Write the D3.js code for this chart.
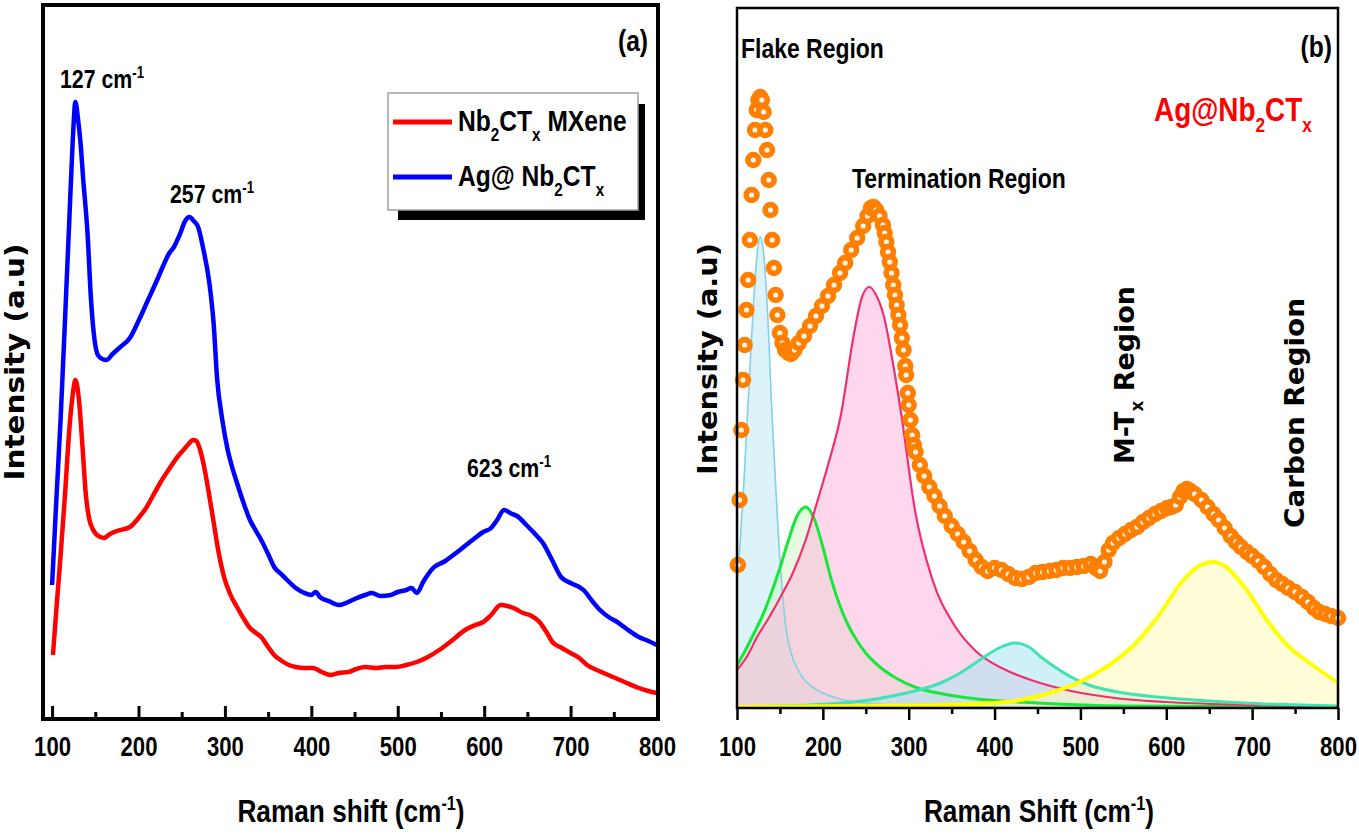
<!DOCTYPE html>
<html lang="en">
<head>
<meta charset="utf-8">
<title>Raman spectra: Nb2CTx and Ag@Nb2CTx</title>
<script src="https://cdn.jsdelivr.net/npm/d3@7"></script>
<style>
  body { margin: 0; background: #fff; }
  svg { display: block; }
</style>
</head>
<body>
<script>

// ---- data (Raman shift in cm-1, intensity in arbitrary units) ----
var majorTicks = [100, 200, 300, 400, 500, 600, 700, 800];
var minorTicks = [150, 250, 350, 450, 550, 650, 750];

// panel (a)
var bluePts = [[100,134],[105,220],[110,302],[115,400],[120,500],[124,580],[127,617],[130,600],[133,575],
  [136,540],[141,486],[145,420],[149,380],[153,364],[158,360],[163,359],[170,365],[179,372],[190,381],
  [200,398],[211,419],[220,436],[228,452],[235,465],[241,472],[248,485],[254,498],[259,502],[264,498],
  [269,492],[275,470],[282,436],[287,395],[291,340],[297,299],[303,270],[309,250],[314,236],[322,215],
  [329,199],[336,188],[342,179],[350,165],[357,152],[365,145],[372,139],[382,131],[392,126],[400,124],
  [405,127],[410,122],[420,118],[432,114],[440,116],[450,120],[462,124],[470,126],[480,123],[492,124],
  [500,127],[510,129],[516,131],[522,126],[530,138],[541,151],[555,158],[569,167],[585,178],[599,187],
  [608,191],[615,199],[623,209],[630,206],[638,203],[650,193],[660,184],[668,176],[678,160],[689,142],
  [700,136],[715,129],[725,118],[734,109],[744,102],[754,97],[765,90],[779,82],[790,78],[800,74]];

var redPts = [[101,64],[105,110],[110,165],[115,225],[120,290],[124,325],[127,339],[131,320],[135,275],
  [139,225],[143,200],[147,190],[152,184],[160,181],[167,185],[175,188],[190,192],[201,202],[208,210],
  [216,222],[225,236],[237,252],[245,262],[252,269],[258,275],[263,279],[267,278],[271,270],[276,252],
  [281,228],[286,202],[292,170],[299,142],[306,125],[314,112],[322,100],[329,91],[336,86],[342,82],
  [350,72],[357,64],[366,58],[374,54],[382,52],[392,51],[402,51],[412,47],[422,44],[432,46],[443,47],
  [452,50],[462,52],[475,51],[486,52],[498,52],[510,54],[522,57],[535,62],[548,69],[562,78],[578,89],
  [590,94],[599,97],[608,104],[619,114],[627,113],[634,111],[645,106],[655,103],[664,97],[672,87],
  [679,77],[690,71],[700,66],[710,61],[719,54],[733,48],[749,42],[765,36],[779,31],[790,28],[800,26]];

// panel (b) experimental spectrum
var agPts = [[101,143],[103,208],[105,278],[107,328],[109,363],[111,398],[113,428],[115,468],[117,513],
  [119,548],[121,578],[123,598],[125,608],[127,611],[129,608],[131,596],[133,578],[135,558],[137,528],
  [139,498],[141,468],[143,440],[145,413],[147,393],[150,375],[153,365],[156,358],[160,355],[163,354],
  [167,358],[172,365],[178,372],[185,382],[192,392],[199,402],[206,412],[213,423],[220,435],[226,445],
  [233,458],[240,470],[247,482],[252,492],[256,500],[259,501],[262,498],[266,492],[270,483],[272,475],
  [274,466],[276,456],[278,446],[280,435],[282,423],[284,413],[286,403],[288,393],[290,383],[292,370],
  [294,358],[296,342],[297,333],[299,315],[300,303],[302,288],[304,273],[306,263],[308,256],[313,243],
  [318,232],[324,221],[330,212],[336,202],[342,192],[350,182],[357,174],[364,166],[371,157],[378,148],
  [385,141],[392,137],[400,140],[408,138],[416,134],[424,130],[432,129],[440,131],[448,135],[456,136],
  [464,137],[472,138],[480,140],[488,140],[496,141],[504,142],[512,144],[518,140],[523,137],[528,146],
  [533,158],[538,165],[545,170],[552,174],[559,178],[566,181],[573,186],[580,190],[587,194],[594,197],
  [601,200],[606,201],[611,203],[616,211],[620,217],[624,219],[628,217],[633,214],[641,208],[648,201],
  [655,194],[661,188],[668,180],[675,172],[681,166],[687,161],[694,156],[700,152],[707,147],[714,141],
  [721,134],[728,128],[735,124],[742,120],[750,116],[758,111],[765,106],[772,100],[778,96],[785,94],
  [792,92],[800,90]];

// panel (b) fitted components
var flakePts = [[100,125],[104,170],[108,225],[112,290],[116,355],[120,415],[124,458],[127,471],[130,462],
  [134,420],[138,350],[140,308],[144,240],[148,175],[152,125],[157,80],[163,55],[170,40],[176,31],
  [188,21],[200,15],[220,9],[240,6],[280,3],[350,1],[500,0],[800,0]];
var greenPts = [[100,43],[110,58],[120,75],[130,93],[140,115],[150,140],[160,168],[170,192],[180,201],
  [190,189],[200,161],[210,128],[220,102],[230,82],[240,67],[250,55],[265,42],[285,30],[310,20],
  [340,14],[380,9],[450,5],[550,2],[800,1]];
var pinkPts = [[100,38],[112,52],[124,72],[137,90],[150,110],[165,135],[180,168],[193,205],[206,243],
  [221,293],[236,373],[246,412],[254,421],[262,413],[271,392],[282,343],[292,290],[307,199],[327,130],
  [353,83],[378,57],[413,38],[439,29],[489,17],[540,10],[600,6],[700,3],[800,1]];
var tealPts = [[100,1],[185,3],[236,6],[297,15],[337,25],[360,35],[388,51],[405,60],[424,65],[440,61],
  [454,51],[472,40],[489,31],[510,23],[550,15],[590,11],[691,5],[800,2]];
var yellowPts = [[100,1],[236,2],[337,3],[413,6],[464,15],[499,26],[530,41],[560,61],[590,91],[620,128],
  [640,143],[654,146],[668,142],[691,121],[717,88],[743,61],[767,45],[800,25]];

var fits = [
  { pts: flakePts,  line: "#86cfe3", fill: "#bfeaf6", lw: 1.6 },
  { pts: greenPts,  line: "#19e63c", fill: "#d2f5c8", lw: 3 },
  { pts: pinkPts,   line: "#f0306e", fill: "#ffb6dc", lw: 2.2 },
  { pts: tealPts,   line: "#3fe3b4", fill: "#a9e3f2", lw: 3 },
  { pts: yellowPts, line: "#ffff00", fill: "#fffab8", lw: 4 }
];

// ---- setup ----
var w = 1359;
var h = 834;
var narrow = "'Liberation Sans', Arial, sans-serif";   // squeezed horizontally below
var squeeze = 0.82;
var wide = "'DejaVu Sans', Verdana, sans-serif";

var svg = d3.select("body")
            .append("svg")
            .attr("width", w)
            .attr("height", h);

// text with sub/superscripts: parts = [[text, ""|"sub"|"sup"], ...]
function richText(g, x, y, parts, size, o) {
  o = o || {};
  var tf = "translate(" + x + "," + y + ")";
  if (o.rotate) tf += " rotate(" + o.rotate + ")";
  if (o.sx) tf += " scale(" + o.sx + ",1)";
  var t = g.append("text")
           .attr("transform", tf)
           .attr("text-anchor", o.anchor || "start")
           .attr("font-family", o.family || narrow)
           .attr("font-size", size)
           .attr("font-weight", "bold")
           .attr("fill", o.color || "#000");
  var shift = 0;
  parts.forEach(function(p) {
    var s = p[1] === "sub" ? size * 0.32 : (p[1] === "sup" ? -size * 0.38 : 0);
    t.append("tspan")
     .attr("dy", s - shift)
     .attr("font-size", p[1] ? size * 0.62 : size)
     .text(p[0]);
    shift = s;
  });
  return t;
}

function styleAxis(ax, width) {
  ax.select(".domain").remove();
  ax.selectAll(".tick line").attr("stroke", "#000").attr("stroke-width", width);
  ax.selectAll(".tick text")
    .attr("font-family", narrow)
    .attr("font-size", 27)
    .attr("font-weight", "bold")
    .attr("fill", "#000")
    .attr("transform", "scale(" + squeeze + ",1)");
}

// ================= panel (a) =================
var xA = d3.scaleLinear().domain([89.5, 800]).range([43, 657]);
var yA = d3.scaleLinear().domain([0, 714]).range([719, 5]);

var lineA = d3.line()
              .x(function(d) { return xA(d[0]); })
              .y(function(d) { return yA(d[1]); })
              .curve(d3.curveMonotoneX);

svg.append("path").datum(redPts)
   .attr("d", lineA).attr("fill", "none")
   .attr("stroke", "#ff0000").attr("stroke-width", 4.5).attr("stroke-linejoin", "round");
svg.append("path").datum(bluePts)
   .attr("d", lineA).attr("fill", "none")
   .attr("stroke", "#0000ff").attr("stroke-width", 4.5).attr("stroke-linejoin", "round");

var axA = svg.append("g").attr("transform", "translate(0,718)")
             .call(d3.axisBottom(xA).tickValues(majorTicks).tickSize(-12).tickPadding(19));
styleAxis(axA, 3);
var axAm = svg.append("g").attr("transform", "translate(0,718)")
              .call(d3.axisBottom(xA).tickValues(minorTicks).tickSize(-6).tickFormat(""));
styleAxis(axAm, 3);

svg.append("rect")
   .attr("x", 43).attr("y", 5).attr("width", 615).attr("height", 714)
   .attr("fill", "none").attr("stroke", "#000").attr("stroke-width", 4);

// legend
svg.append("rect").attr("x", 398).attr("y", 104).attr("width", 247).attr("height", 116).attr("fill", "#000");
svg.append("rect").attr("x", 388).attr("y", 93).attr("width", 250).attr("height", 117)
   .attr("fill", "#fff").attr("stroke", "#a0a0a0").attr("stroke-width", 1.5);
svg.append("line").attr("x1", 393).attr("x2", 452).attr("y1", 122).attr("y2", 122)
   .attr("stroke", "#ff0000").attr("stroke-width", 5);
svg.append("line").attr("x1", 393).attr("x2", 452).attr("y1", 177).attr("y2", 177)
   .attr("stroke", "#0000ff").attr("stroke-width", 5);
richText(svg, 458, 131, [["Nb", ""], ["2", "sub"], ["CT", ""], ["x", "sub"], [" MXene", ""]], 30, { sx: squeeze });
richText(svg, 458, 186, [["Ag@ Nb", ""], ["2", "sub"], ["CT", ""], ["x", "sub"]], 30, { sx: squeeze });

// peak labels
richText(svg, 60, 88, [["127 cm", ""], ["-1", "sup"]], 26, { sx: squeeze });
richText(svg, 170, 203, [["257 cm", ""], ["-1", "sup"]], 26, { sx: squeeze });
richText(svg, 467, 477, [["623 cm", ""], ["-1", "sup"]], 26, { sx: squeeze });

richText(svg, 648, 51, [["(a)", ""]], 30, { sx: squeeze, anchor: "end" });

richText(svg, 351, 822, [["Raman shift (cm", ""], ["-1", "sup"], [")", ""]], 32, { sx: squeeze, anchor: "middle" });

svg.append("text")
   .attr("transform", "translate(24,362) rotate(-90)")
   .attr("text-anchor", "middle")
   .attr("font-family", wide).attr("font-weight", "bold").attr("font-size", 26)
   .attr("textLength", 237).attr("lengthAdjust", "spacingAndGlyphs")
   .text("Intensity (a.u)");

// ================= panel (b) =================
var xB = d3.scaleLinear().domain([100, 800]).range([737, 1338]);
var yB = d3.scaleLinear().domain([0, 700]).range([708, 8]);

var areaB = d3.area()
              .x(function(d) { return xB(d[0]); })
              .y0(yB(0))
              .y1(function(d) { return yB(d[1]); })
              .curve(d3.curveMonotoneX);
var lineB = d3.line()
              .x(function(d) { return xB(d[0]); })
              .y(function(d) { return yB(d[1]); })
              .curve(d3.curveMonotoneX);

svg.selectAll("path.fitArea")
   .data(fits).enter().append("path")
   .attr("class", "fitArea")
   .attr("d", function(d) { return areaB(d.pts); })
   .attr("fill", function(d) { return d.fill; })
   .attr("fill-opacity", 0.55);

svg.selectAll("path.fitLine")
   .data(fits).enter().append("path")
   .attr("class", "fitLine")
   .attr("d", function(d) { return lineB(d.pts); })
   .attr("fill", "none")
   .attr("stroke", function(d) { return d.line; })
   .attr("stroke-width", function(d) { return d.lw; });

// open orange markers (white core, thick orange rim)
svg.selectAll("circle.ag")
   .data(agPts).enter().append("circle")
   .attr("class", "ag")
   .attr("cx", function(d) { return xB(d[0]); })
   .attr("cy", function(d) { return yB(d[1]); })
   .attr("r", 5.4)
   .attr("fill", "#fff3e6")
   .attr("stroke", "#ff7f00")
   .attr("stroke-width", 5.6);

var axB = svg.append("g").attr("transform", "translate(0,708)")
             .call(d3.axisBottom(xB).tickValues(majorTicks).tickSize(12).tickPadding(17));
styleAxis(axB, 2.5);
var axBm = svg.append("g").attr("transform", "translate(0,708)")
              .call(d3.axisBottom(xB).tickValues(minorTicks).tickSize(6).tickFormat(""));
styleAxis(axBm, 2.5);

svg.append("rect")
   .attr("x", 737).attr("y", 8).attr("width", 601).attr("height", 700)
   .attr("fill", "none").attr("stroke", "#000").attr("stroke-width", 2.5);

richText(svg, 741, 58, [["Flake Region", ""]], 28, { sx: squeeze });
richText(svg, 1332, 57, [["(b)", ""]], 30, { sx: squeeze, anchor: "end" });
richText(svg, 1154, 121, [["Ag@Nb", ""], ["2", "sub"], ["CT", ""], ["x", "sub"]], 34, { sx: squeeze, color: "#ff0000" });
richText(svg, 852, 188, [["Termination Region", ""]], 28, { sx: squeeze });

richText(svg, 1134, 375, [["M-T", ""], ["x", "sub"], [" Region", ""]], 27,
         { family: wide, rotate: -90, anchor: "middle" });
svg.append("text")
   .attr("transform", "translate(1304,413) rotate(-90)")
   .attr("text-anchor", "middle")
   .attr("font-family", wide).attr("font-weight", "bold").attr("font-size", 26)
   .attr("textLength", 230).attr("lengthAdjust", "spacingAndGlyphs")
   .text("Carbon Region");

richText(svg, 1039, 822, [["Raman Shift (cm", ""], ["-1", "sup"], [")", ""]], 32, { sx: squeeze, anchor: "middle" });

svg.append("text")
   .attr("transform", "translate(717,359) rotate(-90)")
   .attr("text-anchor", "middle")
   .attr("font-family", wide).attr("font-weight", "bold").attr("font-size", 26)
   .attr("textLength", 232).attr("lengthAdjust", "spacingAndGlyphs")
   .text("Intensity (a.u)");

</script>
</body>
</html>
